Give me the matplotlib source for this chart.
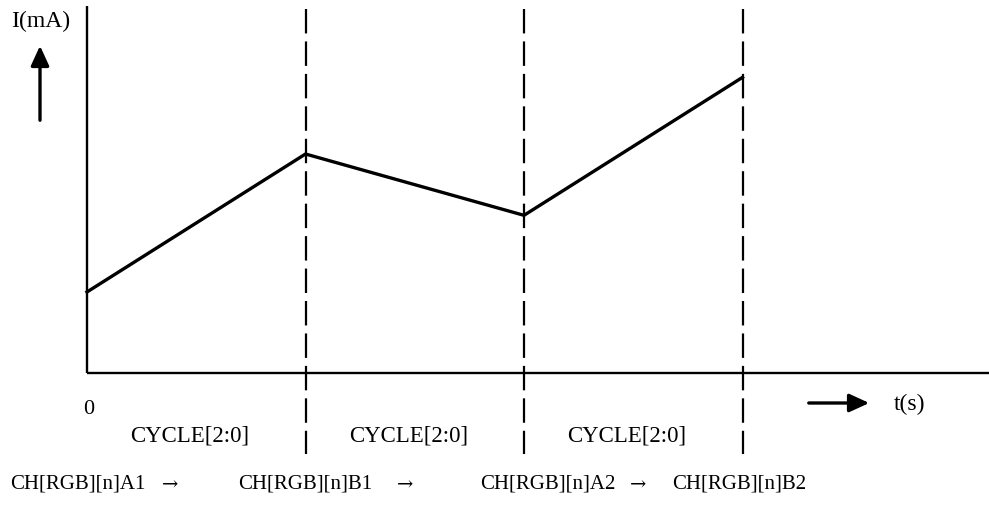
import matplotlib
matplotlib.use("Agg")
import matplotlib.pyplot as plt

# current trace: one point per cycle boundary (t in cycles, I in arbitrary units)
t_points = [0, 1, 2, 3]
i_points = [1.11, 3.0, 2.16, 4.05]
cycle_bounds = [1, 2, 3]
cycle_labels = ["CYCLE[2:0]", "CYCLE[2:0]", "CYCLE[2:0]"]
channel_labels = ["CH[RGB][n]A1", "CH[RGB][n]B1", "CH[RGB][n]A2", "CH[RGB][n]B2"]

W, H = 989, 510
PX_T, PX_I = 218.5, 73.0      # pixels per unit on each axis
X0, Y0 = 87, 374              # origin in pixels from top-left

plt.rcParams["font.family"] = ["Liberation Serif", "DejaVu Serif"]

fig = plt.figure(figsize=(W / 100, H / 100), dpi=100, facecolor="white")
ax = fig.add_axes([0, 0, 1, 1])
ax.set_xlim(-X0 / PX_T, (W - X0) / PX_T)
ax.set_ylim(-(H - Y0) / PX_I, Y0 / PX_I)
ax.axis("off")


def fx(px):
    return px / W


def fy(py):
    return 1 - py / H


# axes
ax.plot([0, 0], [0, (Y0 - 7) / PX_I], color="black", lw=1.7, solid_capstyle="butt")
ax.plot([0, (W - X0) / PX_T], [0, 0], color="black", lw=1.7, solid_capstyle="butt")

# cycle boundaries
for b in cycle_bounds:
    ax.plot([b, b], [(Y0 - 10) / PX_I, -(455 - Y0) / PX_I], color="black", lw=1.6,
            dashes=(11, 3.6))

# current
ax.plot(t_points, i_points, color="black", lw=2.4, solid_joinstyle="miter")

# axis labels and arrows
head = dict(arrowstyle="-|>,head_length=1.2,head_width=0.55", color="black", lw=2.4)
fig.text(fx(41), fy(21), "I(mA)", fontsize=17, ha="center", va="center")
ax.annotate("", xy=(fx(40), fy(44)), xytext=(fx(40), fy(124)),
            xycoords="figure fraction", textcoords="figure fraction", arrowprops=head)
ax.annotate("", xy=(fx(872), fy(404)), xytext=(fx(806), fy(404)),
            xycoords="figure fraction", textcoords="figure fraction", arrowprops=head)
fig.text(fx(910), fy(404), "t(s)", fontsize=17, ha="center", va="center")
fig.text(fx(89), fy(410), "0", fontsize=16, ha="center", va="center")

# cycle labels between boundaries
starts = [0] + cycle_bounds[:-1]
for s, e, lab in zip(starts, cycle_bounds, cycle_labels):
    ax.text((s + e) / 2 - 0.03, -(436 - Y0) / PX_I, lab, fontsize=16.5,
            ha="center", va="center")

# channel sequence
ch_x = [10, 238, 480, 672]
arrow_x = [170, 405, 638]
for x, lab in zip(ch_x, channel_labels):
    fig.text(fx(x), fy(484), lab, fontsize=15, ha="left", va="center")
for x in arrow_x:
    fig.text(fx(x), fy(484), "\u2192", fontsize=14, ha="center", va="center",
             family=["DejaVu Serif"])

fig.savefig("out.png", dpi=100, facecolor="white")
